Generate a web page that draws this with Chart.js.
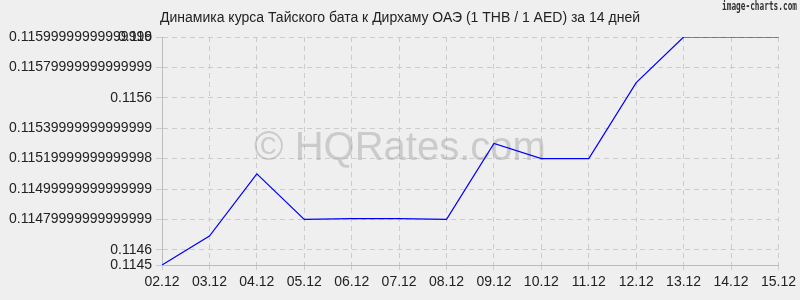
<!DOCTYPE html>
<html>
<head>
<meta charset="utf-8">
<script src="https://cdn.jsdelivr.net/npm/chart.js@4"></script>
<style>
  html, body { margin:0; padding:0; background:#efefef; }
  #wrap { width:800px; height:300px; position:relative; }
</style>
</head>
<body>
<div id="wrap"><canvas id="chart" width="800" height="300"></canvas></div>
<script>
// Data
const days = ["02.12","03.12","04.12","05.12","06.12","07.12","08.12","09.12","10.12","11.12","12.12","13.12","14.12","15.12"];
const rates = [0.1145, 0.11469, 0.1151, 0.1148, 0.114805, 0.114805, 0.1148, 0.1153, 0.1152, 0.1152, 0.1157, 0.116, 0.116, 0.116];
const tickValues = [0.1145, 0.1146, 0.1148, 0.115, 0.1152, 0.1154, 0.1156, 0.1158, 0.116, 0.116];
const tickLabels = ["0.1145","0.1146","0.11479999999999999","0.11499999999999999","0.11519999999999998","0.11539999999999999","0.1156","0.11579999999999999","0.11599999999999999","0.116"];

const titleText = "Динамика курса Тайского бата к Дирхаму ОАЭ (1 THB / 1 AED) за 14 дней";

const extras = {
  id: "extras",
  beforeDatasetsDraw(chart) {
    const ctx = chart.ctx;
    ctx.save();
    ctx.font = "40px 'Liberation Sans', Arial, sans-serif";
    ctx.fillStyle = "rgba(160,160,160,0.45)";
    ctx.textAlign = "center";
    ctx.textBaseline = "alphabetic";
    ctx.fillText("© HQRates.com", 400, 160);
    ctx.restore();
  },
  afterDraw(chart) {
    const ctx = chart.ctx;
    ctx.save();
    ctx.font = "14px 'Liberation Sans', Arial, sans-serif";
    ctx.fillStyle = "#222";
    ctx.textAlign = "center";
    ctx.textBaseline = "middle";
    ctx.fillText(titleText, 400, 18);
    ctx.font = "bold 12px 'DejaVu Sans Mono', monospace";
    ctx.fillStyle = "#333";
    ctx.textAlign = "left";
    ctx.fillText("image-charts.com", 722, 7, 75);
    ctx.restore();
  }
};

const chart = new Chart(document.getElementById("chart"), {
  type: "line",
  data: {
    labels: days,
    datasets: [{
      data: rates,
      borderColor: "#0000ff",
      borderWidth: 1.2,
      pointRadius: 0,
      tension: 0,
      fill: false
    }]
  },
  options: {
    responsive: false,
    animation: false,
    layout: { padding: { top: 37, right: 21, bottom: 0, left: 0 } },
    plugins: { legend: { display: false }, tooltip: { enabled: false } },
    scales: {
      x: {
        offset: false,
        grid: { color: "#cccccc", borderDash: [5, 4], tickLength: 5, tickColor: "#cccccc" },
        border: { color: "#bbbbbb", dash: [5, 4] },
        ticks: { color: "#222", font: { family: "'Liberation Sans', Arial", size: 14 }, padding: 4, maxRotation: 0, autoSkip: false },
        afterFit(scale) { scale.height = 35; }
      },
      y: {
        min: 0.1145,
        max: 0.116,
        grid: { color: "#cccccc", borderDash: [5, 4], tickLength: 6, tickColor: "#cccccc" },
        border: { color: "#bbbbbb", dash: [5, 4] },
        afterBuildTicks(scale) { scale.ticks = tickValues.map(v => ({ value: v })); },
        ticks: {
          color: "#222",
          font: { family: "'Liberation Sans', Arial", size: 14 },
          padding: 4,
          autoSkip: false,
          callback: (v, i) => tickLabels[i]
        },
        afterFit(scale) { scale.width = 162; }
      }
    }
  },
  plugins: [extras]
});
</script>
</body>
</html>
